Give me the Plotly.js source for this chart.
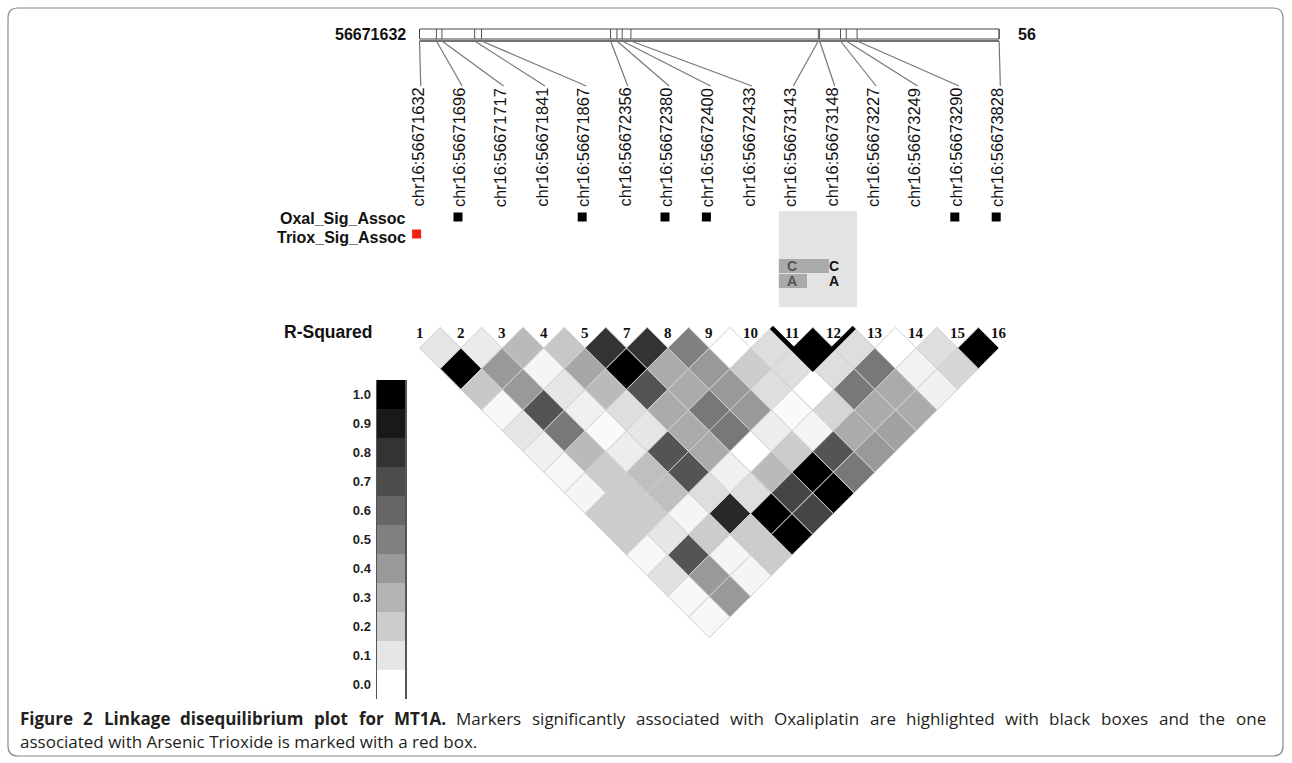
<!DOCTYPE html>
<html><head><meta charset="utf-8">
<script src="https://cdn.plot.ly/plotly-3.0.1.min.js"></script>
<style>html,body{margin:0;padding:0;background:#fff;}#chart{width:1292px;height:763px;}</style>
</head><body><div id="chart"></div>
<script>
// ---------------- data ----------------
const markerPositions = [56671632,56671696,56671717,56671841,56671867,56672356,56672380,56672400,56672433,56673143,56673148,56673227,56673249,56673290,56673828];
const markerNumbers = [1,2,3,4,5,7,8,9,10,11,12,13,14,15,16];
const oxalSigAssoc  = [0,1,0,0,1,0,1,1,0,0,0,0,0,1,1];
const trioxSigAssoc = [1,0,0,0,0,0,0,0,0,0,0,0,0,0,0];
// r-squared of each marker with every following marker
const r2Marker1  = [0.10,1.00,0.22,0.03,0.10,0.06,0.03,0.04,0.20,0.20,0.03,0.12,0.03,0.03];
const r2Marker2  = [0.08,0.40,0.40,0.67,0.53,0.27,0.20,0.20,0.20,0.10,0.67,0.40,0.40];
const r2Marker3  = [0.27,0.04,0.10,0.06,0.02,0.07,0.25,0.25,0.04,0.20,0.04,0.04];
const r2Marker4  = [0.22,0.35,0.27,0.13,0.10,0.67,0.67,0.13,0.84,0.20,0.20];
const r2Marker5  = [0.80,1.00,0.67,0.33,0.33,0.33,0.06,0.13,1.00,1.00];
const r2Marker7  = [0.80,0.33,0.33,0.53,0.53,0.00,0.27,0.73,0.73];
const r2Marker8  = [0.50,0.40,0.40,0.40,0.07,0.20,1.00,1.00];
const r2Marker9  = [0.00,0.20,0.13,0.02,0.04,0.67,0.53];
const r2Marker10 = [0.13,0.13,0.00,0.16,0.33,0.40];
const r2Marker11 = [1.00,0.13,0.53,0.33,0.37];
const r2Marker12 = [0.13,0.53,0.33,0.33];
const r2Marker13 = [0.00,0.05,0.06];
const r2Marker14 = [0.13,0.16];
const r2Marker15 = [1.00];
const ldRows = [r2Marker1,r2Marker2,r2Marker3,r2Marker4,r2Marker5,r2Marker7,r2Marker8,r2Marker9,r2Marker10,r2Marker11,r2Marker12,r2Marker13,r2Marker14,r2Marker15];
const blockMarkers = [9,10];            // indices of the LD block (markers 11 and 12)
const hapAlleles = [["C","C"],["A","A"]];
const hapFreqs = [0.64,0.36];
const legendLevels = [0.0,0.1,0.2,0.3,0.4,0.5,0.6,0.7,0.8,0.9,1.0];
const captionBold = "Figure 2 Linkage disequilibrium plot for MT1A.";
const captionLine1 = "Markers significantly associated with Oxaliplatin are highlighted with black boxes and the one";
const captionLine2 = "associated with Arsenic Trioxide is marked with a red box.";

// ---------------- geometry helpers ----------------
const W = 1292, H = 763;
const U = 41.4, PX0 = 419.5, PY0 = 348;
const pyToY = py => (PY0 - py) / U;
const pxToX = px => (px - PX0) / U;
const P = (px, py) => ({x: px / W, y: 1 - py / H});
const N = markerPositions.length;
const first = markerPositions[0], last = markerPositions[N - 1];
const rulerX = p => (N - 1) * (p - first) / (last - first);
const grayOf = r => { const g = Math.round(255 * (1 - r)); return `rgb(${g},${g},${g})`; };
const SANS = 'Liberation Sans, Arial, sans-serif';
const CAPFONT = 'Open Sans';
const CAPSIZE = 17;

const traces = [];
// LD cells
ldRows.forEach((row, i) => {
  row.forEach((r, k) => {
    const j = i + k + 1, d = j - i;
    const cx = (i + j) / 2, cy = -(d - 1) / 2;
    traces.push({type:'scatter', mode:'lines', x:[cx-0.5,cx,cx+0.5,cx,cx-0.5], y:[cy,cy+0.5,cy,cy-0.5,cy],
      fill:'toself', fillcolor:grayOf(r), line:{color:'#d0d0d0', width:1}, hoverinfo:'skip'});
  });
});
// block outline
{
  const a = blockMarkers[0], b = blockMarkers[1], d = b - a;
  const cy = -(d - 1) / 2;
  traces.push({type:'scatter', mode:'lines', x:[a-0.5,(a+b)/2,b+0.5], y:[0.5,cy-0.5,0.5],
    line:{color:'#000', width:4.5}, hoverinfo:'skip'});
}
// ruler
const yRTop = pyToY(29), yRBot = pyToY(39), yRBot2 = pyToY(41), yLabTop = pyToY(86);
{
  const tx = [], ty = [];
  markerPositions.forEach(p => { tx.push(rulerX(p), rulerX(p), null); ty.push(yRTop, yRBot, null); });
  traces.push({type:'scatter', mode:'lines', x:tx, y:ty, line:{color:'#555', width:1}, hoverinfo:'skip'});
  traces.push({type:'scatter', mode:'lines', x:[0,N-1,N-1,0,0], y:[yRTop,yRTop,yRBot,yRBot,yRTop], line:{color:'#444', width:1}, hoverinfo:'skip'});
  traces.push({type:'scatter', mode:'lines', x:[0,N-1], y:[yRBot2,yRBot2], line:{color:'#444', width:1.6}, hoverinfo:'skip'});
  const cx = [], cy = [];
  markerPositions.forEach((p, k) => { cx.push(rulerX(p), k + 0.03, null); cy.push(yRBot2, yLabTop, null); });
  traces.push({type:'scatter', mode:'lines', x:cx, y:cy, line:{color:'#777', width:1.2}, hoverinfo:'skip'});
}
// association squares
{
  const ox = [], tx = [];
  oxalSigAssoc.forEach((v, k) => { if (v) ox.push(k - 0.07); });
  trioxSigAssoc.forEach((v, k) => { if (v) tx.push(k - 0.07); });
  traces.push({type:'scatter', mode:'markers', x:ox, y:ox.map(() => pyToY(217)), marker:{symbol:'square', size:9, color:'#000'}, hoverinfo:'skip'});
  traces.push({type:'scatter', mode:'markers', x:tx, y:tx.map(() => pyToY(234)), marker:{symbol:'square', size:9, color:'#ee2211'}, hoverinfo:'skip'});
}
// colour key as heatmap
traces.push({type:'heatmap', x:[0], y:legendLevels, z:legendLevels.map(v => [v]), zmin:0, zmax:1,
  colorscale:[[0,'#ffffff'],[1,'#000000']], showscale:false, xaxis:'x2', yaxis:'y2', hoverinfo:'skip'});

// ---------------- annotations ----------------
const ann = [];
markerPositions.forEach((p, k) => {
  ann.push({xref:'x', yref:'y', x:k - 0.06, y:yLabTop, text:'chr16:' + p, textangle:-90, showarrow:false,
    xanchor:'center', yanchor:'top', font:{family:SANS, size:16.5, color:'#111'}});
  ann.push({xref:'x', yref:'y', x:k, y:pyToY(333), text:'<b>' + markerNumbers[k] + '</b>', showarrow:false,
    xanchor:'center', yanchor:'middle', font:{family:'Liberation Serif, Times New Roman, serif', size:15, color:'#111'}});
});
const label = (px, py, text, opts) => Object.assign({xref:'paper', yref:'paper', x:P(px,py).x, y:P(px,py).y, text:text,
  showarrow:false, xanchor:'right', yanchor:'middle', font:{family:SANS, size:16, color:'#111'}}, opts || {});
ann.push(label(408, 34, '<b>56671632</b>'));
ann.push(label(1016, 34, '<b>56</b>', {xanchor:'left'}));
ann.push(label(408, 218, '<b>Oxal_Sig_Assoc</b>'));
ann.push(label(408, 237, '<b>Triox_Sig_Assoc</b>'));
ann.push(label(282, 332, '<b>R-Squared</b>', {xanchor:'left', font:{family:SANS, size:17.5, color:'#111'}}));
// haplotype display
const bx0 = blockMarkers[0] - 0.32, bx1 = blockMarkers[1] + 0.57;
const hapRowY = [pyToY(266), pyToY(281)];
hapAlleles.forEach((row, h) => {
  row.forEach((a, m) => {
    ann.push({xref:'x', yref:'y', x:blockMarkers[m], y:hapRowY[h], text:'<b>' + a + '</b>', showarrow:false,
      xanchor:'center', yanchor:'middle', font:{family:SANS, size:14, color: m === 0 ? '#555' : '#111'}});
  });
});
// caption: first line justified across the frame (word by word), second line ragged
{
  const ctx = document.createElement('canvas').getContext('2d');
  const words = captionBold.split(' ').map(w => ({w, bold:true})).concat(captionLine1.split(' ').map(w => ({w, bold:false})));
  const widths = words.map(o => { ctx.font = (o.bold ? 'bold ' : '') + CAPSIZE + 'px "' + CAPFONT + '"'; return ctx.measureText(o.w).width; });
  const x0 = 20, x1 = 1266;
  const gap = (x1 - x0 - widths.reduce((a, b) => a + b, 0)) / (words.length - 1);
  let x = x0;
  words.forEach((o, k) => {
    ann.push(label(x - 2, 718, o.bold ? '<b>' + o.w + '</b>' : o.w, {xanchor:'left',
      font:{family:CAPFONT + ', sans-serif', size:CAPSIZE, color:'#231f20'}}));
    x += widths[k] + gap;
  });
  ann.push(label(18, 741, captionLine2, {xanchor:'left', font:{family:CAPFONT + ', sans-serif', size:CAPSIZE, color:'#231f20'}}));
}

// ---------------- shapes ----------------
const shapes = [];
shapes.push({type:'rect', xref:'x', yref:'y', x0:bx0, x1:bx1, y0:pyToY(307), y1:pyToY(211), fillcolor:'#e3e3e3', line:{width:0}, layer:'below'});
hapFreqs.forEach((f, h) => {
  shapes.push({type:'rect', xref:'x', yref:'y', x0:bx0, x1:bx0 + f * (bx1 - bx0), y0:hapRowY[h] - 7/U, y1:hapRowY[h] + 7/U,
    fillcolor:'#aaaaaa', line:{width:0}, layer:'below'});
});
{
  const r = 10, L = 8, T = 8, R = 1283, B = 756;
  const pt = (px, py) => `${px / W},${1 - py / H}`;
  const path = `M${pt(L+r,T)} L${pt(R-r,T)} Q${pt(R,T)} ${pt(R,T+r)} L${pt(R,B-r)} Q${pt(R,B)} ${pt(R-r,B)} L${pt(L+r,B)} Q${pt(L,B)} ${pt(L,B-r)} L${pt(L,T+r)} Q${pt(L,T)} ${pt(L+r,T)} Z`;
  shapes.push({type:'path', xref:'paper', yref:'paper', path:path, line:{color:'#8a8a8a', width:1.2}});
}

const layout = {
  width: W, height: H, margin:{l:0, r:0, t:0, b:0}, paper_bgcolor:'#fff', plot_bgcolor:'rgba(0,0,0,0)',
  showlegend:false, hovermode:false,
  xaxis:{range:[pxToX(0), pxToX(W)], domain:[0,1], visible:false, fixedrange:true},
  yaxis:{range:[pyToY(H), pyToY(0)], domain:[0,1], visible:false, fixedrange:true},
  xaxis2:{domain:[377/W, 405/W], anchor:'y2', range:[-0.5,0.5], showline:false, showgrid:false, zeroline:false, showticklabels:false, ticks:'', fixedrange:true},
  yaxis2:{domain:[1-699/H, 1-380/H], anchor:'x2', range:[-0.05,1.05], showline:true, mirror:true, linecolor:'#555', linewidth:1.5,
    showgrid:false, zeroline:false, tickvals:legendLevels, ticktext:legendLevels.map(v => v.toFixed(1)),
    ticks:'outside', ticklen:2, tickcolor:'rgba(0,0,0,0)', tickfont:{family:SANS, size:13, color:'#222', weight:'bold'}, fixedrange:true},
  annotations: ann, shapes: shapes
};
Plotly.newPlot('chart', traces, layout, {displayModeBar:false, staticPlot:true});
</script></body></html>
